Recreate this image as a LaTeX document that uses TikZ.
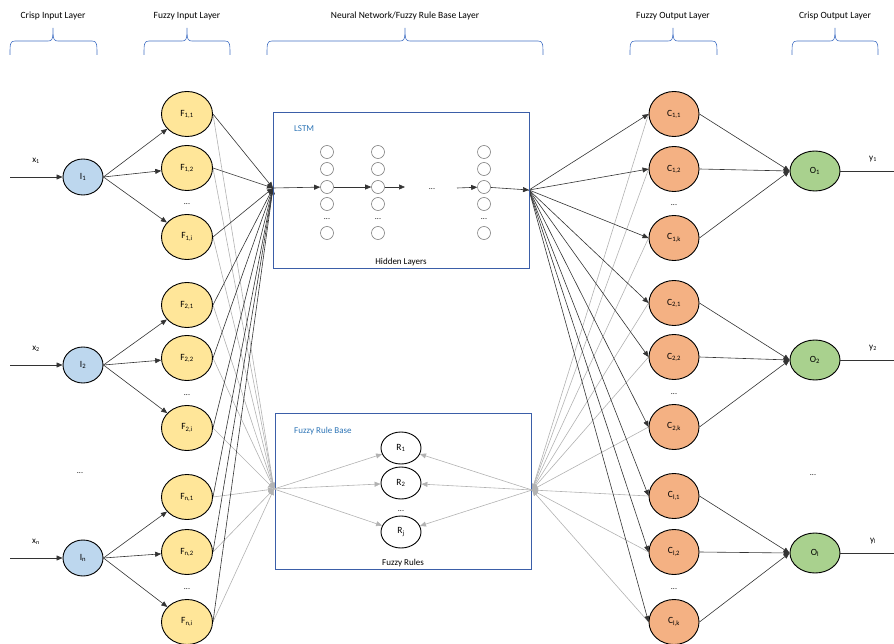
\documentclass[tikz,border=0pt]{standalone}
\usepackage{fontspec}
\setmainfont{Carlito}
\usetikzlibrary{shapes.geometric,arrows.meta}
\definecolor{inblue}{HTML}{BDD7EE}
\definecolor{fuzin}{HTML}{FFE699}
\definecolor{fuzout}{HTML}{F4B183}
\definecolor{outgreen}{HTML}{A9D18E}
\definecolor{boxblue}{HTML}{3B5EA8}
\definecolor{bracecol}{HTML}{4472C4}
\definecolor{lbltxt}{HTML}{2E75B6}
\newcommand\mysub[1]{\textsubscript{#1}}
\pgfdeclarelayer{bg}
\pgfsetlayers{bg,main}
\begin{document}
\begin{tikzpicture}[x=1pt,y=-1pt,
  nd/.style={ellipse,draw=black,line width=0.9pt,inner sep=0pt,font=\fontsize{9.5}{10}\selectfont},
  inode/.style={nd,fill=inblue,minimum width=40pt,minimum height=36pt},
  fnode/.style={nd,fill=fuzin,minimum width=51pt,minimum height=45pt},
  cnode/.style={nd,fill=fuzout,minimum width=50pt,minimum height=45pt},
  onode/.style={nd,fill=outgreen,minimum width=50pt,minimum height=40pt},
  rnode/.style={nd,fill=white,minimum width=40pt,minimum height=32pt},
  hnode/.style={circle,draw=black!50,fill=white,line width=0.6pt,minimum size=13pt,inner sep=0pt},
  txt/.style={font=\fontsize{9}{10}\selectfont,inner sep=1pt},
  head/.style={font=\fontsize{9.5}{11}\selectfont,inner sep=1pt},
  dotn/.style={font=\fontsize{8}{9}\selectfont,inner sep=0pt},
  blk/.style={draw=black!80,line width=0.6pt},
  gry/.style={draw=black!25,line width=0.6pt},
  arr/.style={-{Triangle[length=6pt,width=5pt]}},
  garr/.style={-{Triangle[length=6pt,width=5pt]},black!30},
  brace/.style={draw=bracecol,line width=0.6pt},
  frame/.style={draw=boxblue,line width=1pt,minimum width=256pt,minimum height=156pt,inner sep=0pt}
]
\useasboundingbox (0,0) rectangle (894,644);

% headers and braces
\foreach \xm/\xa/\xb/\t [count=\n] in {53/10/97/{Crisp Input Layer}, 187/144/230/{Fuzzy Input Layer}, 405/267/543/{Neural Network/Fuzzy Rule Base Layer}, 673/630/717/{Fuzzy Output Layer}, 835/792/878/{Crisp Output Layer}}{
  \node[head] (hd\n) at (\xm,16) {\t};
  \draw[brace] (\xa,55) .. controls (\xa,44) and (\xa,41) .. (\xa+5,41) -- (\xm-5,41)
     .. controls (\xm-1,41) and (\xm,40) .. (\xm,28)
     .. controls (\xm,40) and (\xm+1,41) .. (\xm+5,41) -- (\xb-5,41)
     .. controls (\xb,41) and (\xb,44) .. (\xb,55);
}

% boxes
\node[frame] (lstmbox) at (401,191) {};
\node[frame] (rulebox) at (403,491) {};
\node[txt,text=lbltxt,anchor=west] (lstmlbl) at (293,129) {LSTM};
\node[txt] (hidlbl) at (401,262) {Hidden Layers};
\node[txt,text=lbltxt,anchor=west] (rblbl) at (293,431) {Fuzzy Rule Base};
\node[txt] (frlbl) at (403,563) {Fuzzy Rules};

% convergence points
\coordinate (lconv) at (273,188);
\coordinate (rconv) at (529,190);
\coordinate (gconvL) at (274,489);
\coordinate (gconvR) at (532,490);

% hidden layers
\foreach \c/\x in {1/327,2/378,3/484}{
  \foreach \r/\y in {1/152,2/169,3/187,4/204,6/233}{
    \node[hnode] (h\c\r) at (\x,\y) {};
  }
  \node[dotn] (hd\c) at (\x,219) {...};
}
\coordinate (hmidA) at (405,187);
\coordinate (hmidB) at (457,188);
\node[dotn] (hdots) at (432,189) {...};
\draw[blk,arr] (lconv) -- (h13);
\draw[blk,arr] (h13) -- (h23);
\draw[blk,arr] (h23) -- (hmidA);
\draw[blk,arr] (hmidB) -- (h33);
\draw[blk,arr] (h33) -- (rconv);

% rules
\node[rnode] (R1) at (401,448) {R\mysub{1}};
\node[rnode] (R2) at (401,483) {R\mysub{2}};
\node[rnode] (R3) at (401,532) {R\mysub{j}};
\node[dotn] (rdots) at (401,511) {...};
\foreach \k in {1,2,3}{
  \draw[gry,garr] (gconvL) -- (R\k);
  \draw[gry,garr] (gconvR) -- (R\k);
}

% input side
\foreach \g/\ya/\yb/\yc/\yi in {1/114/168/237/177, 2/305/358/428/365, n/497/552/622/558}{
  \node[inode] (I\g) at (83,\yi) {I\mysub{\g}};
  \node[fnode] (F\g1) at (187,\ya) {F\mysub{\g,1}};
  \node[fnode] (F\g2) at (187,\yb) {F\mysub{\g,2}};
  \node[fnode] (F\g3) at (187,\yc) {F\mysub{\g,i}};
  \node[dotn] (Fd\g) at (187,{(\yb+\yc)/2+2}) {...};
  \node[txt] (xl\g) at (36,\yi-16) {x\mysub{\g}};
  \coordinate (xin\g) at (10,\yi);
  \draw[blk,arr] (xin\g) -- (I\g);
  \begin{pgfonlayer}{bg}
  \foreach \k in {1,2,3}{
    \draw[blk,arr] (I\g.east) -- (F\g\k);
    \draw[gry,garr] (F\g\k.east) -- (gconvL);
    \draw[blk,arr] (F\g\k.east) -- (lconv);
  }
  \end{pgfonlayer}
}
\node[dotn] (idots) at (80,473) {...};

% output side
\foreach \g/\ya/\yb/\yc/\yo in {1/114/169/238/171, 2/303/357/427/360, l/496/552/622/553}{
  \node[cnode] (C\g1) at (674,\ya) {C\mysub{\g,1}};
  \node[cnode] (C\g2) at (674,\yb) {C\mysub{\g,2}};
  \node[cnode] (C\g3) at (674,\yc) {C\mysub{\g,k}};
  \node[dotn] (Cd\g) at (674,{(\yb+\yc)/2+2}) {...};
  \node[onode] (O\g) at (815,\yo) {O\mysub{\g}};
  \node[txt] (yl\g) at (873,\yo-12) {y\mysub{\g}};
  \coordinate (yout\g) at (894,\yo);
  \draw[blk] (O\g.east) -- (yout\g);
  \begin{pgfonlayer}{bg}
  \foreach \k in {1,2,3}{
    \draw[gry,garr] (C\g\k.west) -- (gconvR);
    \draw[blk,arr] (rconv) -- (C\g\k.west);
    \draw[blk,arr] (C\g\k.east) -- (O\g.west);
  }
  \end{pgfonlayer}
}
\node[dotn] (odots) at (813,475) {...};
\end{tikzpicture}
\end{document}
